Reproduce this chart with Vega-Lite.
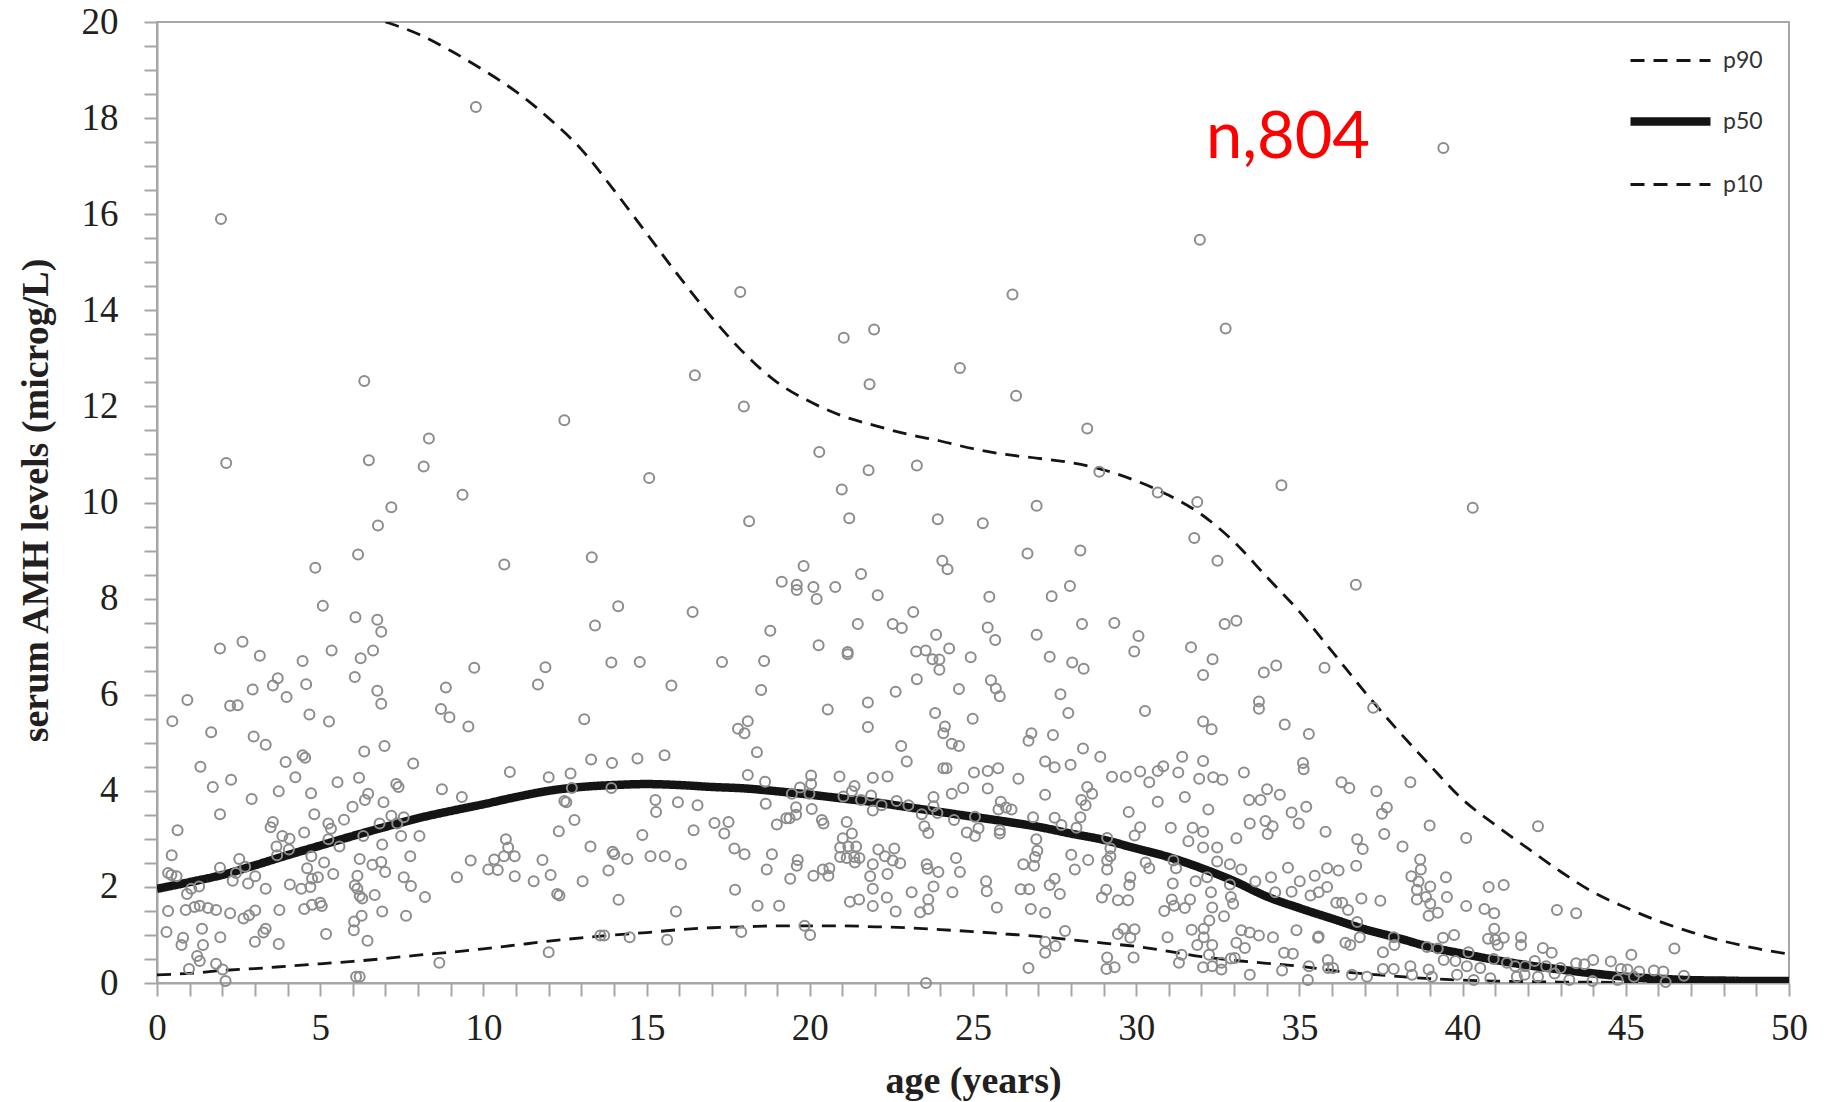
{
  "$schema": "https://vega.github.io/schema/vega-lite/v6.json",
  "width": 1632,
  "height": 961,
  "autosize": {"type": "none"},
  "padding": {"left": 157, "top": 22, "right": 36, "bottom": 119},
  "background": "white",
  "datasets": {
    "crv": [
      {"a":7.0,"v":20.0,"c":"p90"},{"a":8,"v":19.75,"c":"p90"},{"a":9,"v":19.4,"c":"p90"},{"a":10,"v":19.0,"c":"p90"},{"a":11,"v":18.55,"c":"p90"},{"a":12,"v":18.0,"c":"p90"},{"a":13,"v":17.35,"c":"p90"},{"a":14,"v":16.5,"c":"p90"},{"a":15,"v":15.6,"c":"p90"},{"a":16,"v":14.7,"c":"p90"},{"a":17,"v":13.85,"c":"p90"},{"a":18,"v":13.1,"c":"p90"},{"a":19,"v":12.5,"c":"p90"},{"a":20,"v":12.1,"c":"p90"},{"a":21,"v":11.8,"c":"p90"},{"a":22,"v":11.6,"c":"p90"},{"a":23,"v":11.42,"c":"p90"},{"a":24,"v":11.28,"c":"p90"},{"a":25,"v":11.12,"c":"p90"},{"a":26,"v":11.0,"c":"p90"},{"a":27,"v":10.92,"c":"p90"},{"a":28,"v":10.83,"c":"p90"},{"a":29,"v":10.68,"c":"p90"},{"a":30,"v":10.45,"c":"p90"},{"a":31,"v":10.15,"c":"p90"},{"a":32,"v":9.75,"c":"p90"},{"a":33,"v":9.18,"c":"p90"},{"a":34,"v":8.45,"c":"p90"},{"a":35,"v":7.73,"c":"p90"},{"a":36,"v":6.9,"c":"p90"},{"a":37,"v":6.06,"c":"p90"},{"a":38,"v":5.27,"c":"p90"},{"a":39,"v":4.53,"c":"p90"},{"a":40,"v":3.82,"c":"p90"},{"a":41,"v":3.29,"c":"p90"},{"a":42,"v":2.8,"c":"p90"},{"a":43,"v":2.32,"c":"p90"},{"a":44,"v":1.89,"c":"p90"},{"a":45,"v":1.57,"c":"p90"},{"a":46,"v":1.29,"c":"p90"},{"a":47,"v":1.06,"c":"p90"},{"a":48,"v":0.87,"c":"p90"},{"a":49,"v":0.72,"c":"p90"},{"a":50,"v":0.6,"c":"p90"},
      {"a":0,"v":1.96,"c":"p50"},{"a":1,"v":2.1,"c":"p50"},{"a":2,"v":2.25,"c":"p50"},{"a":3,"v":2.45,"c":"p50"},{"a":4,"v":2.66,"c":"p50"},{"a":5,"v":2.86,"c":"p50"},{"a":6,"v":3.06,"c":"p50"},{"a":7,"v":3.25,"c":"p50"},{"a":8,"v":3.43,"c":"p50"},{"a":9,"v":3.58,"c":"p50"},{"a":10,"v":3.72,"c":"p50"},{"a":11,"v":3.87,"c":"p50"},{"a":12,"v":4.0,"c":"p50"},{"a":13,"v":4.08,"c":"p50"},{"a":14,"v":4.12,"c":"p50"},{"a":15,"v":4.14,"c":"p50"},{"a":16,"v":4.12,"c":"p50"},{"a":17,"v":4.08,"c":"p50"},{"a":18,"v":4.05,"c":"p50"},{"a":19,"v":3.99,"c":"p50"},{"a":20,"v":3.92,"c":"p50"},{"a":21,"v":3.84,"c":"p50"},{"a":22,"v":3.76,"c":"p50"},{"a":23,"v":3.66,"c":"p50"},{"a":24,"v":3.56,"c":"p50"},{"a":25,"v":3.46,"c":"p50"},{"a":26,"v":3.36,"c":"p50"},{"a":27,"v":3.25,"c":"p50"},{"a":28,"v":3.11,"c":"p50"},{"a":29,"v":2.98,"c":"p50"},{"a":30,"v":2.8,"c":"p50"},{"a":31,"v":2.62,"c":"p50"},{"a":32,"v":2.39,"c":"p50"},{"a":33,"v":2.12,"c":"p50"},{"a":34,"v":1.8,"c":"p50"},{"a":35,"v":1.56,"c":"p50"},{"a":36,"v":1.34,"c":"p50"},{"a":37,"v":1.12,"c":"p50"},{"a":38,"v":0.94,"c":"p50"},{"a":39,"v":0.75,"c":"p50"},{"a":40,"v":0.61,"c":"p50"},{"a":41,"v":0.48,"c":"p50"},{"a":42,"v":0.37,"c":"p50"},{"a":43,"v":0.28,"c":"p50"},{"a":44,"v":0.2,"c":"p50"},{"a":45,"v":0.13,"c":"p50"},{"a":46,"v":0.09,"c":"p50"},{"a":47,"v":0.06,"c":"p50"},{"a":48,"v":0.05,"c":"p50"},{"a":49,"v":0.04,"c":"p50"},{"a":50,"v":0.04,"c":"p50"},
      {"a":0,"v":0.17,"c":"p10"},{"a":1,"v":0.2,"c":"p10"},{"a":2,"v":0.26,"c":"p10"},{"a":3,"v":0.3,"c":"p10"},{"a":4,"v":0.35,"c":"p10"},{"a":5,"v":0.4,"c":"p10"},{"a":6,"v":0.45,"c":"p10"},{"a":7,"v":0.51,"c":"p10"},{"a":8,"v":0.58,"c":"p10"},{"a":9,"v":0.64,"c":"p10"},{"a":10,"v":0.71,"c":"p10"},{"a":11,"v":0.79,"c":"p10"},{"a":12,"v":0.87,"c":"p10"},{"a":13,"v":0.94,"c":"p10"},{"a":14,"v":1.0,"c":"p10"},{"a":15,"v":1.05,"c":"p10"},{"a":16,"v":1.11,"c":"p10"},{"a":17,"v":1.15,"c":"p10"},{"a":18,"v":1.17,"c":"p10"},{"a":19,"v":1.19,"c":"p10"},{"a":20,"v":1.19,"c":"p10"},{"a":21,"v":1.19,"c":"p10"},{"a":22,"v":1.17,"c":"p10"},{"a":23,"v":1.15,"c":"p10"},{"a":24,"v":1.11,"c":"p10"},{"a":25,"v":1.07,"c":"p10"},{"a":26,"v":1.02,"c":"p10"},{"a":27,"v":0.97,"c":"p10"},{"a":28,"v":0.9,"c":"p10"},{"a":29,"v":0.83,"c":"p10"},{"a":30,"v":0.76,"c":"p10"},{"a":31,"v":0.66,"c":"p10"},{"a":32,"v":0.55,"c":"p10"},{"a":33,"v":0.47,"c":"p10"},{"a":34,"v":0.41,"c":"p10"},{"a":35,"v":0.35,"c":"p10"},{"a":36,"v":0.26,"c":"p10"},{"a":37,"v":0.19,"c":"p10"},{"a":38,"v":0.14,"c":"p10"},{"a":39,"v":0.09,"c":"p10"},{"a":40,"v":0.06,"c":"p10"},{"a":41,"v":0.04,"c":"p10"},{"a":42,"v":0.03,"c":"p10"},{"a":43,"v":0.02,"c":"p10"},{"a":44,"v":0.02,"c":"p10"},{"a":45,"v":0.01,"c":"p10"},{"a":50,"v":0.01,"c":"p10"}
    ],
    "pts": [
      {"a":2.12,"v":10.82},{"a":6.49,"v":10.88},{"a":8.17,"v":10.75},{"a":7.18,"v":9.9},{"a":6.77,"v":9.52},{"a":6.16,"v":8.92},{"a":4.85,"v":8.64},{"a":5.08,"v":7.85},{"a":6.08,"v":7.61},{"a":6.75,"v":7.56},{"a":6.87,"v":7.31},{"a":1.93,"v":6.96},{"a":2.62,"v":7.1},{"a":3.15,"v":6.81},{"a":4.46,"v":6.7},{"a":5.35,"v":6.92},{"a":6.24,"v":6.76},{"a":6.62,"v":6.92},{"a":6.06,"v":6.37},{"a":4.57,"v":6.22},{"a":3.55,"v":6.19},{"a":3.7,"v":6.34},{"a":2.93,"v":6.11},{"a":3.97,"v":5.95},{"a":6.75,"v":6.08},{"a":6.87,"v":5.81},{"a":0.93,"v":5.89},{"a":2.24,"v":5.77},{"a":2.47,"v":5.78},{"a":0.47,"v":5.45},{"a":4.67,"v":5.59},{"a":5.27,"v":5.44},{"a":1.66,"v":5.22},{"a":2.96,"v":5.13},{"a":3.33,"v":4.96},{"a":6.35,"v":4.82},{"a":6.97,"v":4.93},{"a":4.46,"v":4.74},{"a":4.54,"v":4.69},{"a":3.94,"v":4.6},{"a":1.33,"v":4.5},{"a":7.85,"v":4.57},{"a":4.24,"v":4.28},{"a":1.71,"v":4.08},{"a":2.27,"v":4.23},{"a":5.53,"v":4.18},{"a":6.19,"v":4.27},{"a":2.9,"v":3.83},{"a":3.73,"v":3.99},{"a":4.72,"v":3.95},{"a":7.33,"v":4.14},{"a":7.4,"v":4.08},{"a":6.47,"v":3.94},{"a":6.37,"v":3.81},{"a":5.99,"v":3.67},{"a":6.94,"v":3.76},{"a":1.93,"v":3.51},{"a":4.82,"v":3.51},{"a":5.73,"v":3.4},{"a":0.63,"v":3.18},{"a":3.55,"v":3.35},{"a":3.48,"v":3.24},{"a":5.25,"v":3.32},{"a":5.33,"v":3.21},{"a":7.18,"v":3.48},{"a":7.56,"v":3.45},{"a":6.82,"v":3.32},{"a":7.36,"v":3.32},{"a":3.84,"v":3.06},{"a":4.06,"v":3.0},{"a":4.51,"v":3.13},{"a":5.25,"v":2.99},{"a":6.32,"v":3.06},{"a":7.48,"v":3.06},{"a":8.04,"v":3.06},{"a":0.45,"v":2.66},{"a":3.66,"v":2.84},{"a":3.68,"v":2.66},{"a":4.04,"v":2.78},{"a":5.59,"v":2.84},{"a":4.73,"v":2.64},{"a":6.9,"v":2.88},{"a":7.76,"v":2.64},{"a":2.52,"v":2.58},{"a":1.93,"v":2.4},{"a":2.7,"v":2.42},{"a":2.42,"v":2.29},{"a":4.6,"v":2.39},{"a":5.12,"v":2.51},{"a":6.21,"v":2.58},{"a":6.6,"v":2.46},{"a":6.87,"v":2.52},{"a":6.99,"v":2.31},{"a":0.34,"v":2.29},{"a":0.44,"v":2.25},{"a":0.6,"v":2.22},{"a":2.32,"v":2.13},{"a":3.01,"v":2.22},{"a":5.4,"v":2.27},{"a":6.14,"v":2.23},{"a":7.56,"v":2.2},{"a":4.75,"v":2.17},{"a":4.93,"v":2.2},{"a":0.92,"v":1.85},{"a":1.05,"v":1.96},{"a":1.29,"v":2.01},{"a":2.79,"v":2.07},{"a":3.33,"v":1.96},{"a":4.07,"v":2.05},{"a":4.42,"v":1.96},{"a":4.7,"v":2.0},{"a":6.06,"v":2.03},{"a":6.14,"v":1.96},{"a":6.21,"v":1.81},{"a":6.29,"v":1.76},{"a":6.67,"v":1.83},{"a":7.78,"v":2.02},{"a":8.21,"v":1.79},{"a":0.34,"v":1.5},{"a":0.88,"v":1.52},{"a":1.15,"v":1.58},{"a":1.31,"v":1.61},{"a":1.56,"v":1.56},{"a":1.81,"v":1.52},{"a":2.24,"v":1.45},{"a":2.65,"v":1.34},{"a":2.82,"v":1.41},{"a":3.01,"v":1.51},{"a":3.75,"v":1.52},{"a":4.51,"v":1.54},{"a":4.75,"v":1.63},{"a":5.0,"v":1.67},{"a":5.05,"v":1.6},{"a":6.27,"v":1.4},{"a":6.9,"v":1.49},{"a":7.63,"v":1.4},{"a":0.29,"v":1.06},{"a":1.38,"v":1.13},{"a":0.8,"v":0.94},{"a":0.75,"v":0.79},{"a":1.41,"v":0.79},{"a":1.94,"v":0.95},{"a":3.0,"v":0.86},{"a":3.26,"v":1.05},{"a":3.33,"v":1.13},{"a":3.73,"v":0.81},{"a":5.18,"v":1.02},{"a":6.04,"v":1.28},{"a":6.03,"v":1.1},{"a":6.45,"v":0.88},{"a":1.23,"v":0.56},{"a":1.31,"v":0.46},{"a":0.98,"v":0.29},{"a":1.81,"v":0.4},{"a":2.01,"v":0.28},{"a":2.1,"v":0.04},{"a":6.21,"v":0.13},{"a":6.1,"v":0.13},
      {"a":9.36,"v":10.16},{"a":15.08,"v":10.51},{"a":10.64,"v":8.71},{"a":13.32,"v":8.86},{"a":14.13,"v":7.84},{"a":13.42,"v":7.44},{"a":16.41,"v":7.72},{"a":9.72,"v":6.56},{"a":8.85,"v":6.15},{"a":11.9,"v":6.57},{"a":11.67,"v":6.21},{"a":13.92,"v":6.67},{"a":14.79,"v":6.68},{"a":15.76,"v":6.19},{"a":8.7,"v":5.7},{"a":8.96,"v":5.53},{"a":9.54,"v":5.34},{"a":13.09,"v":5.49},{"a":13.3,"v":4.65},{"a":13.94,"v":4.58},{"a":14.72,"v":4.67},{"a":15.55,"v":4.74},{"a":10.81,"v":4.39},{"a":12.0,"v":4.28},{"a":12.67,"v":4.36},{"a":8.73,"v":4.03},{"a":9.34,"v":3.87},{"a":12.71,"v":4.06},{"a":13.92,"v":4.06},{"a":12.48,"v":3.79},{"a":12.54,"v":3.76},{"a":15.27,"v":3.81},{"a":15.96,"v":3.76},{"a":16.56,"v":3.7},{"a":15.29,"v":3.56},{"a":12.79,"v":3.39},{"a":12.31,"v":3.16},{"a":14.87,"v":3.08},{"a":16.44,"v":3.18},{"a":10.69,"v":2.99},{"a":10.76,"v":2.82},{"a":10.63,"v":2.64},{"a":10.96,"v":2.64},{"a":10.33,"v":2.57},{"a":9.61,"v":2.55},{"a":10.15,"v":2.36},{"a":10.44,"v":2.35},{"a":9.19,"v":2.2},{"a":10.96,"v":2.22},{"a":11.54,"v":2.12},{"a":11.81,"v":2.56},{"a":12.06,"v":2.25},{"a":13.28,"v":2.84},{"a":13.96,"v":2.73},{"a":14.01,"v":2.68},{"a":14.41,"v":2.58},{"a":15.12,"v":2.64},{"a":15.56,"v":2.64},{"a":16.05,"v":2.47},{"a":13.83,"v":2.34},{"a":13.04,"v":2.12},{"a":12.26,"v":1.85},{"a":12.33,"v":1.82},{"a":14.14,"v":1.73},{"a":15.9,"v":1.49},{"a":13.58,"v":0.99},{"a":13.7,"v":0.99},{"a":14.48,"v":0.95},{"a":15.63,"v":0.9},{"a":12.0,"v":0.64},{"a":8.65,"v":0.42},
      {"a":20.29,"v":11.05},{"a":21.8,"v":10.67},{"a":23.28,"v":10.77},{"a":20.98,"v":10.27},{"a":18.14,"v":9.61},{"a":21.21,"v":9.67},{"a":23.92,"v":9.65},{"a":19.81,"v":8.68},{"a":19.14,"v":8.35},{"a":19.6,"v":8.29},{"a":19.6,"v":8.18},{"a":20.11,"v":8.24},{"a":20.78,"v":8.24},{"a":20.21,"v":7.99},{"a":21.57,"v":8.51},{"a":22.08,"v":8.07},{"a":24.06,"v":8.79},{"a":24.22,"v":8.61},{"a":23.17,"v":7.72},{"a":18.79,"v":7.33},{"a":21.47,"v":7.47},{"a":22.54,"v":7.47},{"a":22.82,"v":7.39},{"a":23.87,"v":7.25},{"a":17.31,"v":6.68},{"a":18.6,"v":6.7},{"a":20.27,"v":7.03},{"a":21.16,"v":6.89},{"a":21.16,"v":6.84},{"a":23.26,"v":6.9},{"a":23.55,"v":6.92},{"a":23.76,"v":6.74},{"a":23.97,"v":6.73},{"a":23.97,"v":6.52},{"a":24.27,"v":6.96},{"a":24.93,"v":6.78},{"a":18.51,"v":6.1},{"a":23.28,"v":6.32},{"a":24.57,"v":6.12},{"a":20.55,"v":5.69},{"a":21.78,"v":5.84},{"a":22.63,"v":6.06},{"a":21.78,"v":5.33},{"a":17.8,"v":5.29},{"a":18.1,"v":5.45},{"a":18.0,"v":5.2},{"a":23.84,"v":5.62},{"a":24.14,"v":5.34},{"a":24.09,"v":5.2},{"a":24.99,"v":5.5},{"a":18.38,"v":4.8},{"a":22.8,"v":4.93},{"a":22.97,"v":4.61},{"a":24.35,"v":4.98},{"a":24.57,"v":4.93},{"a":18.1,"v":4.33},{"a":18.63,"v":4.19},{"a":20.04,"v":4.32},{"a":20.04,"v":4.14},{"a":20.91,"v":4.3},{"a":21.93,"v":4.27},{"a":22.38,"v":4.3},{"a":24.09,"v":4.47},{"a":24.19,"v":4.47},{"a":25.03,"v":4.38},{"a":19.7,"v":4.07},{"a":19.45,"v":3.94},{"a":19.99,"v":3.94},{"a":21.37,"v":4.1},{"a":21.29,"v":3.99},{"a":21.03,"v":3.88},{"a":21.57,"v":3.81},{"a":21.88,"v":3.9},{"a":21.93,"v":3.59},{"a":24.7,"v":4.06},{"a":24.35,"v":3.94},{"a":18.65,"v":3.73},{"a":19.58,"v":3.66},{"a":20.06,"v":3.62},{"a":22.2,"v":3.7},{"a":22.66,"v":3.79},{"a":23.02,"v":3.7},{"a":23.79,"v":3.87},{"a":23.79,"v":3.68},{"a":23.91,"v":3.54},{"a":23.43,"v":3.51},{"a":25.06,"v":3.46},{"a":24.42,"v":3.39},{"a":19.58,"v":3.5},{"a":19.38,"v":3.43},{"a":19.28,"v":3.43},{"a":18.99,"v":3.3},{"a":20.37,"v":3.39},{"a":20.42,"v":3.32},{"a":17.08,"v":3.33},{"a":17.51,"v":3.35},{"a":17.38,"v":3.11},{"a":21.13,"v":3.35},{"a":21.29,"v":3.11},{"a":21.01,"v":3.01},{"a":23.51,"v":3.26},{"a":23.63,"v":3.12},{"a":24.81,"v":3.13},{"a":25.06,"v":3.06},{"a":17.69,"v":2.8},{"a":18.0,"v":2.68},{"a":18.84,"v":2.68},{"a":20.93,"v":2.82},{"a":21.18,"v":2.84},{"a":21.42,"v":2.84},{"a":20.93,"v":2.62},{"a":21.13,"v":2.6},{"a":21.36,"v":2.62},{"a":21.52,"v":2.6},{"a":21.38,"v":2.51},{"a":22.1,"v":2.78},{"a":22.3,"v":2.64},{"a":22.59,"v":2.8},{"a":22.54,"v":2.55},{"a":22.77,"v":2.49},{"a":19.63,"v":2.56},{"a":19.6,"v":2.44},{"a":18.68,"v":2.36},{"a":19.4,"v":2.17},{"a":20.11,"v":2.23},{"a":20.4,"v":2.36},{"a":20.6,"v":2.39},{"a":20.57,"v":2.23},{"a":21.93,"v":2.47},{"a":21.85,"v":2.22},{"a":22.38,"v":2.27},{"a":23.58,"v":2.47},{"a":23.61,"v":2.38},{"a":23.94,"v":2.31},{"a":24.48,"v":2.6},{"a":24.6,"v":2.31},{"a":17.71,"v":1.94},{"a":21.93,"v":1.96},{"a":23.12,"v":1.89},{"a":23.79,"v":2.01},{"a":24.37,"v":1.89},{"a":18.4,"v":1.61},{"a":19.06,"v":1.61},{"a":21.23,"v":1.69},{"a":21.51,"v":1.74},{"a":22.36,"v":1.78},{"a":21.93,"v":1.6},{"a":22.63,"v":1.49},{"a":23.63,"v":1.74},{"a":23.63,"v":1.54},{"a":23.38,"v":1.47},{"a":17.9,"v":1.06},{"a":19.84,"v":1.19},{"a":20.01,"v":1.0},{"a":23.56,"v":0.0},
      {"a":28.87,"v":10.64},{"a":30.66,"v":10.21},{"a":31.87,"v":10.01},{"a":26.95,"v":9.93},{"a":25.3,"v":9.57},{"a":31.78,"v":9.26},{"a":26.67,"v":8.94},{"a":28.29,"v":9.0},{"a":32.49,"v":8.79},{"a":27.97,"v":8.26},{"a":27.41,"v":8.05},{"a":25.5,"v":8.04},{"a":25.45,"v":7.4},{"a":25.68,"v":7.14},{"a":26.95,"v":7.25},{"a":28.34,"v":7.47},{"a":29.33,"v":7.49},{"a":30.07,"v":7.22},{"a":29.94,"v":6.9},{"a":32.71,"v":7.47},{"a":33.07,"v":7.54},{"a":31.68,"v":6.99},{"a":32.34,"v":6.74},{"a":32.05,"v":6.41},{"a":27.35,"v":6.79},{"a":28.04,"v":6.67},{"a":28.39,"v":6.54},{"a":25.55,"v":6.3},{"a":25.7,"v":6.13},{"a":25.82,"v":5.97},{"a":27.68,"v":6.01},{"a":27.92,"v":5.62},{"a":30.27,"v":5.66},{"a":32.05,"v":5.44},{"a":32.31,"v":5.28},{"a":26.79,"v":5.2},{"a":26.7,"v":5.04},{"a":27.45,"v":5.16},{"a":28.37,"v":4.88},{"a":28.9,"v":4.71},{"a":27.21,"v":4.61},{"a":27.5,"v":4.49},{"a":27.99,"v":4.54},{"a":31.41,"v":4.71},{"a":32.05,"v":4.62},{"a":25.45,"v":4.41},{"a":25.77,"v":4.47},{"a":26.39,"v":4.25},{"a":29.26,"v":4.29},{"a":29.68,"v":4.29},{"a":30.12,"v":4.4},{"a":30.4,"v":4.18},{"a":30.66,"v":4.41},{"a":30.83,"v":4.51},{"a":31.29,"v":4.38},{"a":31.93,"v":4.25},{"a":32.36,"v":4.28},{"a":32.64,"v":4.23},{"a":33.3,"v":4.38},{"a":25.45,"v":4.05},{"a":27.21,"v":3.92},{"a":28.5,"v":4.08},{"a":28.65,"v":3.94},{"a":28.32,"v":3.81},{"a":28.45,"v":3.7},{"a":30.66,"v":3.77},{"a":31.49,"v":3.87},{"a":32.21,"v":3.61},{"a":33.46,"v":3.81},{"a":25.85,"v":3.77},{"a":25.78,"v":3.61},{"a":26.01,"v":3.65},{"a":26.18,"v":3.61},{"a":29.77,"v":3.56},{"a":26.84,"v":3.45},{"a":27.5,"v":3.44},{"a":27.71,"v":3.29},{"a":28.29,"v":3.45},{"a":28.17,"v":3.23},{"a":30.12,"v":3.24},{"a":29.95,"v":3.07},{"a":31.06,"v":3.23},{"a":31.73,"v":3.23},{"a":32.05,"v":3.15},{"a":33.48,"v":3.32},{"a":25.17,"v":3.22},{"a":25.82,"v":3.18},{"a":25.82,"v":3.11},{"a":26.94,"v":2.99},{"a":26.97,"v":2.75},{"a":26.9,"v":2.62},{"a":26.54,"v":2.47},{"a":26.87,"v":2.44},{"a":29.11,"v":3.02},{"a":29.21,"v":2.8},{"a":29.21,"v":2.64},{"a":29.11,"v":2.55},{"a":29.11,"v":2.36},{"a":28.01,"v":2.67},{"a":28.53,"v":2.56},{"a":28.12,"v":2.36},{"a":31.6,"v":2.95},{"a":32.05,"v":2.82},{"a":32.48,"v":2.82},{"a":33.07,"v":3.01},{"a":30.29,"v":2.51},{"a":30.4,"v":2.39},{"a":31.14,"v":2.55},{"a":31.22,"v":2.39},{"a":31.12,"v":2.07},{"a":32.48,"v":2.53},{"a":32.87,"v":2.47},{"a":33.22,"v":2.36},{"a":31.82,"v":2.12},{"a":32.17,"v":2.2},{"a":32.87,"v":2.05},{"a":25.4,"v":2.12},{"a":25.42,"v":1.91},{"a":26.46,"v":1.95},{"a":26.72,"v":1.95},{"a":27.35,"v":2.04},{"a":27.5,"v":2.17},{"a":27.66,"v":1.85},{"a":29.82,"v":2.2},{"a":29.79,"v":2.04},{"a":29.08,"v":1.94},{"a":28.95,"v":1.78},{"a":29.44,"v":1.72},{"a":29.75,"v":1.72},{"a":25.73,"v":1.57},{"a":26.77,"v":1.54},{"a":27.21,"v":1.46},{"a":30.86,"v":1.5},{"a":31.09,"v":1.74},{"a":31.16,"v":1.61},{"a":31.49,"v":1.56},{"a":31.65,"v":1.74},{"a":32.29,"v":1.89},{"a":32.33,"v":1.57},{"a":32.69,"v":1.39},{"a":32.9,"v":1.79},{"a":32.97,"v":1.65},{"a":32.24,"v":1.3},{"a":27.82,"v":1.08},{"a":27.21,"v":0.86},{"a":27.53,"v":0.77},{"a":27.21,"v":0.63},{"a":26.7,"v":0.31},{"a":29.61,"v":1.13},{"a":29.95,"v":1.12},{"a":29.44,"v":1.02},{"a":29.82,"v":0.94},{"a":29.11,"v":0.53},{"a":29.92,"v":0.53},{"a":29.09,"v":0.29},{"a":29.34,"v":0.33},{"a":30.96,"v":0.95},{"a":31.7,"v":1.11},{"a":32.07,"v":1.13},{"a":32.07,"v":0.95},{"a":31.87,"v":0.79},{"a":32.33,"v":0.79},{"a":32.23,"v":0.59},{"a":31.39,"v":0.59},{"a":31.31,"v":0.42},{"a":32.05,"v":0.33},{"a":32.33,"v":0.35},{"a":32.61,"v":0.42},{"a":32.61,"v":0.28},{"a":33.22,"v":1.1},{"a":33.48,"v":1.05},{"a":33.07,"v":0.84},{"a":33.33,"v":0.73},{"a":33.02,"v":0.52},{"a":33.48,"v":0.17},{"a":32.9,"v":0.51},
      {"a":34.45,"v":10.36},{"a":40.31,"v":9.89},{"a":36.73,"v":8.29},{"a":33.91,"v":6.46},{"a":34.29,"v":6.61},{"a":35.77,"v":6.56},{"a":33.76,"v":5.86},{"a":33.76,"v":5.71},{"a":37.26,"v":5.73},{"a":34.55,"v":5.38},{"a":35.29,"v":5.18},{"a":35.11,"v":4.58},{"a":35.13,"v":4.45},{"a":36.29,"v":4.18},{"a":36.53,"v":4.06},{"a":38.4,"v":4.18},{"a":37.36,"v":3.99},{"a":34.01,"v":4.03},{"a":33.81,"v":3.81},{"a":34.4,"v":3.92},{"a":34.76,"v":3.55},{"a":35.21,"v":3.67},{"a":34.98,"v":3.32},{"a":37.68,"v":3.65},{"a":37.53,"v":3.52},{"a":33.96,"v":3.37},{"a":34.18,"v":3.26},{"a":34.03,"v":3.1},{"a":35.8,"v":3.15},{"a":37.6,"v":3.1},{"a":38.99,"v":3.28},{"a":40.11,"v":3.02},{"a":36.77,"v":2.99},{"a":36.94,"v":2.79},{"a":38.16,"v":2.84},{"a":38.7,"v":2.57},{"a":38.72,"v":2.36},{"a":36.74,"v":2.44},{"a":34.65,"v":2.4},{"a":35.85,"v":2.39},{"a":36.2,"v":2.34},{"a":34.13,"v":2.2},{"a":35.01,"v":2.12},{"a":35.47,"v":2.23},{"a":35.85,"v":2.0},{"a":35.59,"v":1.89},{"a":35.34,"v":1.82},{"a":34.76,"v":1.9},{"a":33.65,"v":2.11},{"a":34.26,"v":1.89},{"a":38.43,"v":2.22},{"a":38.65,"v":2.11},{"a":39.01,"v":2.01},{"a":39.49,"v":2.2},{"a":38.6,"v":1.94},{"a":38.6,"v":1.74},{"a":38.88,"v":1.79},{"a":39.01,"v":1.65},{"a":39.24,"v":1.46},{"a":38.96,"v":1.4},{"a":39.52,"v":1.79},{"a":40.11,"v":1.6},{"a":40.8,"v":2.0},{"a":41.26,"v":2.04},{"a":40.67,"v":1.54},{"a":40.97,"v":1.45},{"a":36.9,"v":1.76},{"a":37.48,"v":1.71},{"a":36.13,"v":1.67},{"a":36.31,"v":1.67},{"a":36.49,"v":1.52},{"a":36.77,"v":1.27},{"a":36.85,"v":0.95},{"a":36.41,"v":0.84},{"a":36.56,"v":0.79},{"a":35.57,"v":0.94},{"a":35.59,"v":0.97},{"a":34.91,"v":1.1},{"a":34.19,"v":0.95},{"a":33.76,"v":0.99},{"a":34.53,"v":0.63},{"a":34.8,"v":0.61},{"a":35.87,"v":0.48},{"a":37.56,"v":0.64},{"a":37.89,"v":0.95},{"a":37.91,"v":0.79},{"a":39.4,"v":0.94},{"a":39.74,"v":1.0},{"a":38.91,"v":0.75},{"a":39.24,"v":0.72},{"a":40.18,"v":0.64},{"a":40.97,"v":1.13},{"a":40.78,"v":0.92},{"a":41.0,"v":0.9},{"a":41.26,"v":0.94},{"a":41.08,"v":0.79},{"a":41.79,"v":0.95},{"a":41.79,"v":0.79},{"a":39.42,"v":0.48},{"a":39.78,"v":0.46},{"a":40.13,"v":0.35},{"a":40.54,"v":0.31},{"a":40.95,"v":0.5},{"a":41.36,"v":0.42},{"a":41.61,"v":0.35},{"a":41.92,"v":0.35},{"a":34.47,"v":0.26},{"a":35.29,"v":0.35},{"a":35.26,"v":0.06},{"a":35.88,"v":0.31},{"a":36.03,"v":0.31},{"a":36.61,"v":0.17},{"a":37.07,"v":0.13},{"a":37.56,"v":0.29},{"a":37.89,"v":0.29},{"a":38.4,"v":0.35},{"a":38.45,"v":0.17},{"a":38.96,"v":0.28},{"a":39.06,"v":0.13},{"a":39.83,"v":0.17},{"a":40.34,"v":0.06},{"a":40.85,"v":0.1},{"a":41.66,"v":0.13},
      {"a":42.31,"v":3.26},{"a":42.89,"v":1.52},{"a":43.48,"v":1.45},{"a":42.46,"v":0.73},{"a":42.73,"v":0.63},{"a":46.49,"v":0.72},{"a":45.17,"v":0.59},{"a":44.0,"v":0.48},{"a":44.54,"v":0.45},{"a":43.48,"v":0.41},{"a":43.73,"v":0.39},{"a":42.21,"v":0.46},{"a":42.56,"v":0.35},{"a":43.0,"v":0.31},{"a":44.85,"v":0.29},{"a":45.05,"v":0.28},{"a":45.41,"v":0.24},{"a":45.86,"v":0.26},{"a":46.15,"v":0.24},{"a":46.78,"v":0.15},{"a":42.31,"v":0.13},{"a":43.27,"v":0.06},{"a":43.98,"v":0.04},{"a":44.75,"v":0.06},{"a":45.25,"v":0.13},{"a":46.22,"v":0.02},{"a":42.82,"v":0.2},{"a":41.9,"v":0.17},
      {"a":1.96,"v":15.9},{"a":6.35,"v":12.53},{"a":9.77,"v":18.23},{"a":12.48,"v":11.71},{"a":17.87,"v":14.38},{"a":17.98,"v":12.0},{"a":16.48,"v":12.65},{"a":21.04,"v":13.43},{"a":21.97,"v":13.6},{"a":21.83,"v":12.46},{"a":24.6,"v":12.8},{"a":26.32,"v":12.22},{"a":26.21,"v":14.33},{"a":28.5,"v":11.54},{"a":31.95,"v":15.47},{"a":32.74,"v":13.62},{"a":39.41,"v":17.38},{"a":8.33,"v":11.33}
    ],
    "note": [{"t": "n,804"}]
  },
  "layer": [
    {
      "encoding": {
        "x": {
          "field": "a", "type": "quantitative",
          "scale": {"domain": [0, 50], "nice": false, "zero": false},
          "axis": {
            "title": "age (years)",
            "values": [0,1,2,3,4,5,6,7,8,9,10,11,12,13,14,15,16,17,18,19,20,21,22,23,24,25,26,27,28,29,30,31,32,33,34,35,36,37,38,39,40,41,42,43,44,45,46,47,48,49,50],
            "labelExpr": "datum.value % 5 === 0 ? format(datum.value, 'd') : ''",
            "ticks": true,
            "tickSize": 13,
            "encode": {"ticks": {"update": {"y2": {"signal": "datum.value % 5 === 0 ? 13 : -9"}}}},
            "labelPadding": 14,
            "labelFlush": false,
            "labelOverlap": false,
            "titleY": 109,
            "titleBaseline": "alphabetic"
          }
        },
        "y": {
          "field": "v", "type": "quantitative",
          "scale": {"domain": [0, 20], "nice": false, "zero": true},
          "axis": {
            "title": "serum AMH levels (microg/L)",
            "values": [0,0.5,1,1.5,2,2.5,3,3.5,4,4.5,5,5.5,6,6.5,7,7.5,8,8.5,9,9.5,10,10.5,11,11.5,12,12.5,13,13.5,14,14.5,15,15.5,16,16.5,17,17.5,18,18.5,19,19.5,20],
            "labelExpr": "datum.value % 2 === 0 ? format(datum.value, 'd') : ''",
            "ticks": true,
            "tickSize": 13,
            "encode": {"ticks": {"update": {"x2": {"signal": "datum.value % 2 === 0 ? -13 : 10"}}}},
            "labelPadding": 26,
            "labelFlush": false,
            "labelOverlap": false,
            "titleX": -121,
            "titleY": 478,
            "titleAngle": 270,
            "titleAlign": "center",
            "titleBaseline": "middle"
          }
        }
      },
      "layer": [
        {
          "data": {"name": "crv"},
          "mark": {"type": "line", "interpolate": "monotone", "clip": true},
          "encoding": {
            "color": {
              "field": "c", "type": "nominal",
              "scale": {"domain": ["p90", "p50", "p10"], "range": ["#141414", "#141414", "#141414"]},
              "legend": {
                "title": null, "orient": "none", "legendX": 1469, "legendY": -3, "padding": 0,
                "symbolType": "stroke", "symbolSize": 6400, "rowPadding": 4, "labelOffset": 8,
                "labelFont": "Lato", "labelFontSize": 23, "labelColor": "#333333"
              }
            },
            "strokeDash": {
              "field": "c", "type": "nominal",
              "scale": {"domain": ["p90", "p50", "p10"], "range": [[14, 9], [1, 0], [14, 9]]},
              "legend": {
                "title": null, "orient": "none", "legendX": 1469, "legendY": -3, "padding": 0,
                "symbolType": "stroke", "symbolSize": 6400, "rowPadding": 4, "labelOffset": 8,
                "labelFont": "Lato", "labelFontSize": 23, "labelColor": "#333333"
              }
            },
            "strokeWidth": {
              "field": "c", "type": "nominal",
              "scale": {"type": "ordinal", "domain": ["p90", "p50", "p10"], "range": [2.8, 8.5, 2.8]},
              "legend": {
                "title": null, "orient": "none", "legendX": 1469, "legendY": -3, "padding": 0,
                "symbolType": "stroke", "symbolSize": 6400, "rowPadding": 4, "labelOffset": 8,
                "labelFont": "Lato", "labelFontSize": 23, "labelColor": "#333333"
              }
            }
          }
        },
        {
          "data": {"name": "pts"},
          "mark": {"type": "point", "shape": "circle", "filled": false, "size": 100, "strokeWidth": 2, "color": "#8c8c8c", "opacity": 1}
        }
      ]
    },
    {
      "data": {"name": "note"},
      "mark": {"type": "text", "font": "Lato", "fontSize": 65, "color": "#ff0000", "align": "center", "baseline": "alphabetic"},
      "encoding": {
        "x": {
          "datum": 34.65, "type": "quantitative",
          "scale": {"domain": [0, 50], "nice": false, "zero": false},
          "axis": {
            "title": "age (years)",
            "values": [0,1,2,3,4,5,6,7,8,9,10,11,12,13,14,15,16,17,18,19,20,21,22,23,24,25,26,27,28,29,30,31,32,33,34,35,36,37,38,39,40,41,42,43,44,45,46,47,48,49,50],
            "labelExpr": "datum.value % 5 === 0 ? format(datum.value, 'd') : ''",
            "ticks": true,
            "tickSize": 13,
            "encode": {"ticks": {"update": {"y2": {"signal": "datum.value % 5 === 0 ? 13 : -9"}}}},
            "labelPadding": 14,
            "labelFlush": false,
            "labelOverlap": false,
            "titleY": 109,
            "titleBaseline": "alphabetic"
          }
        },
        "y": {
          "datum": 17.17, "type": "quantitative",
          "scale": {"domain": [0, 20], "nice": false, "zero": true},
          "axis": {
            "title": "serum AMH levels (microg/L)",
            "values": [0,0.5,1,1.5,2,2.5,3,3.5,4,4.5,5,5.5,6,6.5,7,7.5,8,8.5,9,9.5,10,10.5,11,11.5,12,12.5,13,13.5,14,14.5,15,15.5,16,16.5,17,17.5,18,18.5,19,19.5,20],
            "labelExpr": "datum.value % 2 === 0 ? format(datum.value, 'd') : ''",
            "ticks": true,
            "tickSize": 13,
            "encode": {"ticks": {"update": {"x2": {"signal": "datum.value % 2 === 0 ? -13 : 10"}}}},
            "labelPadding": 26,
            "labelFlush": false,
            "labelOverlap": false,
            "titleX": -121,
            "titleY": 478,
            "titleAngle": 270,
            "titleAlign": "center",
            "titleBaseline": "middle"
          }
        },
        "text": {"field": "t", "type": "nominal"}
      }
    }
  ],
  "config": {
    "view": {"stroke": "#a6a6a6", "strokeWidth": 2},
    "axis": {
      "domainColor": "#a6a6a6",
      "domainWidth": 2,
      "tickColor": "#a6a6a6",
      "tickWidth": 2,
      "grid": false,
      "labelFont": "Liberation Serif",
      "labelFontSize": 37,
      "labelColor": "#231f20",
      "titleFont": "Liberation Serif",
      "titleFontWeight": "bold",
      "titleFontSize": 38,
      "titleColor": "#231f20"
    }
  }
}
